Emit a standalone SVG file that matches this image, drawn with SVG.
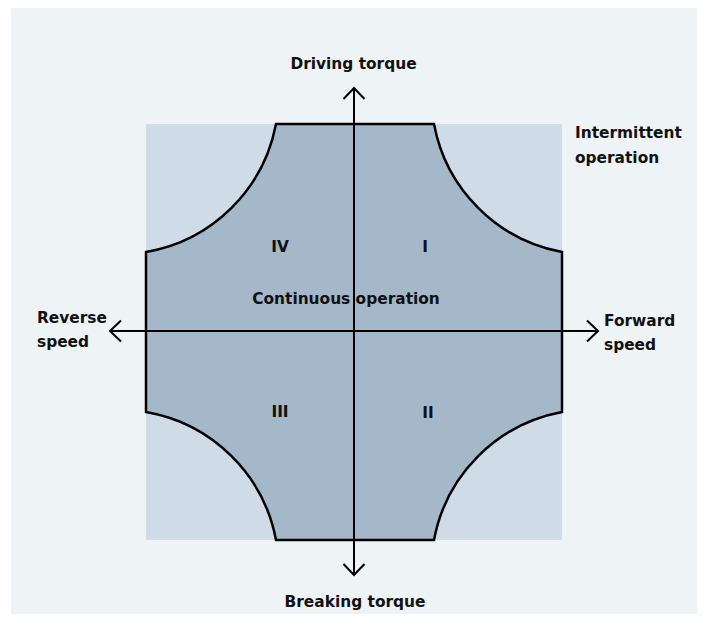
<svg xmlns="http://www.w3.org/2000/svg" width="708" height="625" viewBox="0 0 708 625">
<defs>
<style>
.lbl{font-family:"DejaVu Sans","Liberation Sans",sans-serif;font-weight:bold;font-size:15.4px;fill:#111;}
.axis{stroke:#000;stroke-width:2;fill:none;}
</style>
<marker id="chev" markerUnits="userSpaceOnUse" markerWidth="30" markerHeight="30" viewBox="-15 -15 30 30" refX="0" refY="0" orient="auto">
<path d="M-11,-10.5 L0,0 L-11,10.5" fill="none" stroke="#000" stroke-width="2"/>
</marker>
</defs>
<rect x="0" y="0" width="708" height="625" fill="#ffffff"/>
<rect x="11" y="8" width="686" height="606" fill="#EEF3F6"/>
<g id="intermittent-region">
<rect x="146" y="124" width="416" height="416" fill="#CFDBE6"/>
</g>
<g id="continuous-region">
<path d="M276,124 L434,124 A160,160 0 0 0 562,252 L562,412 A160,160 0 0 0 434,540 L276,540 A160,160 0 0 0 146,412 L146,252 A160,160 0 0 0 276,124 Z" fill="#A4B8C9" stroke="#000" stroke-width="2.5" stroke-linejoin="miter"/>
</g>
<g id="connectors">
<line class="axis" x1="354" y1="331" x2="354" y2="88" marker-end="url(#chev)"/>
<line class="axis" x1="354" y1="331" x2="354" y2="575" marker-end="url(#chev)"/>
<line class="axis" x1="354" y1="331" x2="110" y2="331" marker-end="url(#chev)"/>
<line class="axis" x1="354" y1="331" x2="598" y2="331" marker-end="url(#chev)"/>
</g>
<g id="label-driving"><text class="lbl" x="353.5" y="69" text-anchor="middle">Driving torque</text></g>
<g id="label-breaking"><text class="lbl" x="355" y="607" text-anchor="middle">Breaking torque</text></g>
<g id="label-intermittent"><text class="lbl" x="575" y="138">Intermittent</text><text class="lbl" x="575" y="163">operation</text></g>
<g id="label-reverse"><text class="lbl" x="37" y="323">Reverse</text><text class="lbl" x="37" y="347">speed</text></g>
<g id="label-forward"><text class="lbl" x="604" y="326">Forward</text><text class="lbl" x="604" y="350">speed</text></g>
<g id="label-continuous"><text class="lbl" x="346" y="304" text-anchor="middle">Continuous operation</text></g>
<g id="q-IV"><text class="lbl" x="280" y="252" text-anchor="middle">IV</text></g>
<g id="q-I"><text class="lbl" x="425" y="252" text-anchor="middle">I</text></g>
<g id="q-III"><text class="lbl" x="280" y="417" text-anchor="middle">III</text></g>
<g id="q-II"><text class="lbl" x="428" y="418" text-anchor="middle">II</text></g>
</svg>
